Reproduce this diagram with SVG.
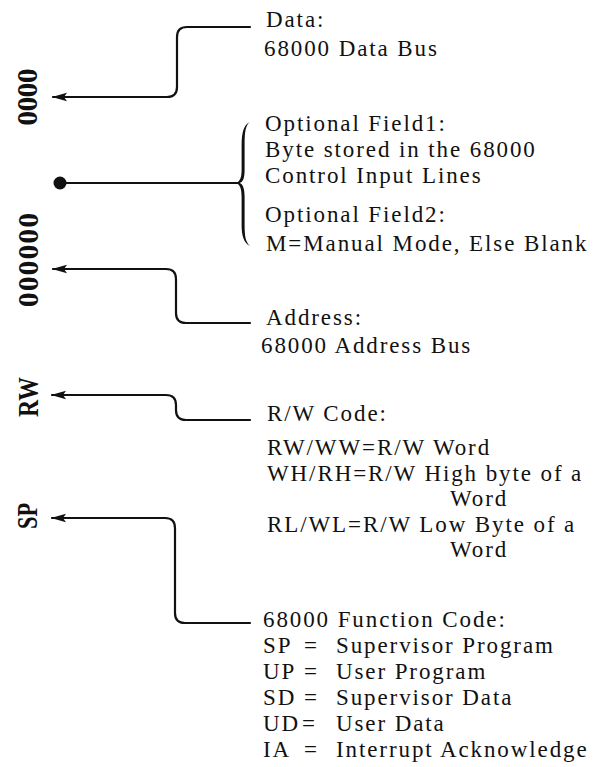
<svg xmlns="http://www.w3.org/2000/svg" width="602" height="767" viewBox="0 0 602 767">
<defs>
<style>
.t{font-family:"Liberation Serif","Times New Roman",serif;font-size:23px;fill:#111;letter-spacing:1.9px}
.v{font-family:"Liberation Serif","Times New Roman",serif;font-size:29px;font-weight:bold;fill:#111}
.c{fill:none;stroke:#111;stroke-width:2.2;stroke-linecap:round;stroke-linejoin:round}
</style>
<marker id="ah" markerUnits="userSpaceOnUse" markerWidth="18" markerHeight="12" refX="16" refY="6" orient="auto" viewBox="0 0 18 12">
<path d="M17,6 L2,1.8 L5,6 L2,10.2 Z" fill="#111"/>
</marker>
</defs>
<rect width="602" height="767" fill="#fff"/>

<g id="labels">
<text class="v" transform="translate(37,97) rotate(-90)" text-anchor="middle" textLength="57">0000</text>
<text class="v" transform="translate(38,260) rotate(-90)" text-anchor="middle" textLength="94">000000</text>
<text class="v" transform="translate(38,397) rotate(-90)" text-anchor="middle" textLength="40" lengthAdjust="spacingAndGlyphs">RW</text>
<text class="v" transform="translate(37,516) rotate(-90)" text-anchor="middle" textLength="26" lengthAdjust="spacingAndGlyphs">SP</text>
</g>

<g id="connectors">
<path class="c" d="M250,27 H187 Q177,27 177,37 V87 Q177,97 167,97 H53" marker-end="url(#ah)"/>
<circle cx="60" cy="183" r="6.5" fill="#111"/>
<path class="c" d="M60,183 H239"/>
<path fill="#111" d="M250,122 C245.5,125 244.6,132 244.6,145 V170 C244.6,178 243.2,182 239.5,183 C243.2,184 244.6,189 244.6,197 V225 C244.6,236 245.5,242 250,246 C244,243 241.6,236 241.6,225 V197 C241.6,189 240.2,185 236.5,183 C240.2,181 241.6,177 241.6,170 V145 C241.6,132 244,124.5 250,122 Z"/>
<path class="c" d="M250,323 H186 Q176,323 176,313 V279 Q176,269 166,269 H53" marker-end="url(#ah)"/>
<path class="c" d="M250,420 H186 Q176,420 176,410 V405 Q176,395 166,395 H52" marker-end="url(#ah)"/>
<path class="c" d="M250,623 H185 Q175,623 175,613 V528 Q175,518 165,518 H52" marker-end="url(#ah)"/>
</g>

<g id="data">
<text class="t" x="266" y="27">Data:</text>
<text class="t" x="264" y="56">68000 Data Bus</text>
</g>

<g id="optional">
<text class="t" x="265" y="131">Optional Field1:</text>
<text class="t" x="265" y="157">Byte stored in the 68000</text>
<text class="t" x="265" y="183">Control Input Lines</text>
<text class="t" x="265" y="222">Optional Field2:</text>
<text class="t" x="266" y="251">M=Manual Mode, Else Blank</text>
</g>

<g id="address">
<text class="t" x="266" y="325">Address:</text>
<text class="t" x="261" y="353">68000 Address Bus</text>
</g>

<g id="rwcode">
<text class="t" x="267" y="421">R/W Code:</text>
<text class="t" x="267" y="455">RW/WW=R/W Word</text>
<text class="t" x="267" y="480.5">WH/RH=R/W High byte of a</text>
<text class="t" x="450" y="506">Word</text>
<text class="t" x="267" y="531.5">RL/WL=R/W Low Byte of a</text>
<text class="t" x="450" y="557">Word</text>
</g>

<g id="function">
<text class="t" x="263" y="627">68000 Function Code:</text>
<text class="t" x="263" y="653">SP</text><text class="t" x="304" y="653">=</text><text class="t" x="336" y="653">Supervisor Program</text>
<text class="t" x="263" y="679">UP</text><text class="t" x="304" y="679">=</text><text class="t" x="336" y="679">User Program</text>
<text class="t" x="263" y="705">SD</text><text class="t" x="304" y="705">=</text><text class="t" x="336" y="705">Supervisor Data</text>
<text class="t" x="263" y="731">UD</text><text class="t" x="302" y="731">=</text><text class="t" x="336" y="731">User Data</text>
<text class="t" x="263" y="757">IA</text><text class="t" x="304" y="757">=</text><text class="t" x="336" y="757">Interrupt Acknowledge</text>
</g>
</svg>
